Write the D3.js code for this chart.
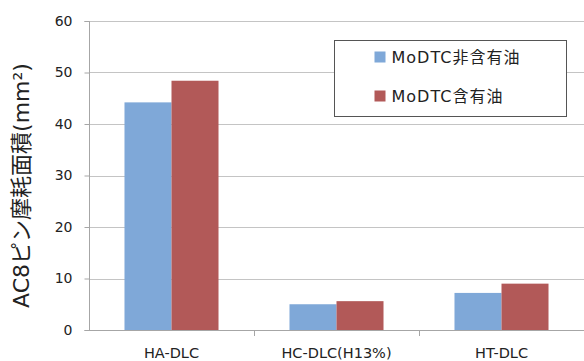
<!DOCTYPE html>
<html>
<head>
<meta charset="utf-8">
<script src="https://cdn.jsdelivr.net/npm/d3@7"></script>
<style>
  html, body { margin: 0; padding: 0; background: #fff; }
  svg text { font-family: "DejaVu Sans", "Noto Sans CJK JP", sans-serif; fill: #222; }
</style>
</head>
<body>
<svg id="chart" width="584" height="361"></svg>
<script>
// Wear area of AC8 pins against three DLC coatings, with and without MoDTC
const categories = ["HA-DLC", "HC-DLC(H13%)", "HT-DLC"];
const seriesNames = ["MoDTC非含有油", "MoDTC含有油"];
const withoutMoDTC = [44.2, 5.0, 7.2];
const withMoDTC = [48.4, 5.6, 9.0];
const yTicks = [0, 10, 20, 30, 40, 50, 60];
const colors = ["#7fa8d8", "#b25958"];

const svg = d3.select("#chart");
const margin = { left: 89, right: 0, top: 21, bottom: 31 };
const W = 584, H = 361;

const x = d3.scaleBand().domain(categories)
  .range([margin.left, W - margin.right]).paddingInner(0).paddingOuter(0);
const xs = d3.scaleBand().domain(seriesNames)
  .range([0, x.bandwidth()]).paddingInner(0).paddingOuter(0.755);
const y = d3.scaleLinear().domain([0, 60]).range([H - margin.bottom, margin.top]);

// grid lines
svg.append("g").selectAll("line").data(yTicks.slice(1)).join("line")
  .attr("x1", margin.left).attr("x2", W)
  .attr("y1", d => Math.round(y(d)) + 0.5).attr("y2", d => Math.round(y(d)) + 0.5)
  .attr("stroke", "#c4c4c4").attr("stroke-width", 1);

// y axis
const yAxis = d3.axisLeft(y).tickValues(yTicks).tickSize(5).tickPadding(12);
const gy = svg.append("g").attr("transform", `translate(${margin.left + 0.5},0)`).call(yAxis);
gy.selectAll("path, line").attr("stroke", "#a6a6a6");
gy.select(".domain").attr("d", `M-5,${Math.round(y(60)) + 0.5}H0V${Math.round(y(0)) + 0.5}H-5`);
gy.selectAll("text").attr("font-size", 14).attr("fill", "#222")
  .style("font-family", '"DejaVu Sans", sans-serif');

// bars
const rows = categories.map((c, i) => ({ c, vals: [withoutMoDTC[i], withMoDTC[i]] }));
const groups = svg.append("g").selectAll("g").data(rows).join("g")
  .attr("transform", d => `translate(${x(d.c)},0)`);
groups.selectAll("rect").data(d => d.vals.map((v, j) => ({ v, s: seriesNames[j], j })))
  .join("rect")
  .attr("x", d => xs(d.s))
  .attr("width", xs.bandwidth())
  .attr("y", d => y(d.v))
  .attr("height", d => y(0) - y(d.v))
  .attr("fill", d => colors[d.j]);

// x axis
const xAxis = d3.axisBottom(x).tickSize(0).tickPadding(17);
const gx = svg.append("g").attr("transform", `translate(0,${Math.round(y(0)) + 0.5})`).call(xAxis);
gx.select(".domain").attr("stroke", "#a6a6a6").attr("d", `M${margin.left},0H${W}`);
gx.selectAll("text").attr("font-size", 14.5).attr("fill", "#222");
// category separators
svg.append("g").selectAll("line").data(categories.slice(1)).join("line")
  .attr("x1", d => Math.round(x(d)) + 0.5).attr("x2", d => Math.round(x(d)) + 0.5)
  .attr("y1", Math.round(y(0))).attr("y2", Math.round(y(0)) + 6)
  .attr("stroke", "#a6a6a6");

// y axis title
svg.append("text")
  .attr("transform", `translate(29,${(y(0) + y(60)) / 2 + 10}) rotate(-90)`)
  .attr("text-anchor", "middle")
  .attr("font-size", 22)
  .text("AC8ピン摩耗面積(mm²)");

// legend
const lg = svg.append("g").attr("transform", "translate(334.5,40.5)");
lg.append("rect").attr("width", 232).attr("height", 76)
  .attr("fill", "#fff").attr("stroke", "#555").attr("stroke-width", 1);
const items = lg.selectAll("g").data(seriesNames).join("g")
  .attr("transform", (d, i) => `translate(40,${11 + i * 39})`);
items.append("rect").attr("width", 11).attr("height", 11)
  .attr("fill", (d, i) => colors[i]);
items.append("text").attr("x", 17).attr("y", 11.5).attr("font-size", 16)
  .attr("letter-spacing", 1).text(d => d);
</script>
</body>
</html>
